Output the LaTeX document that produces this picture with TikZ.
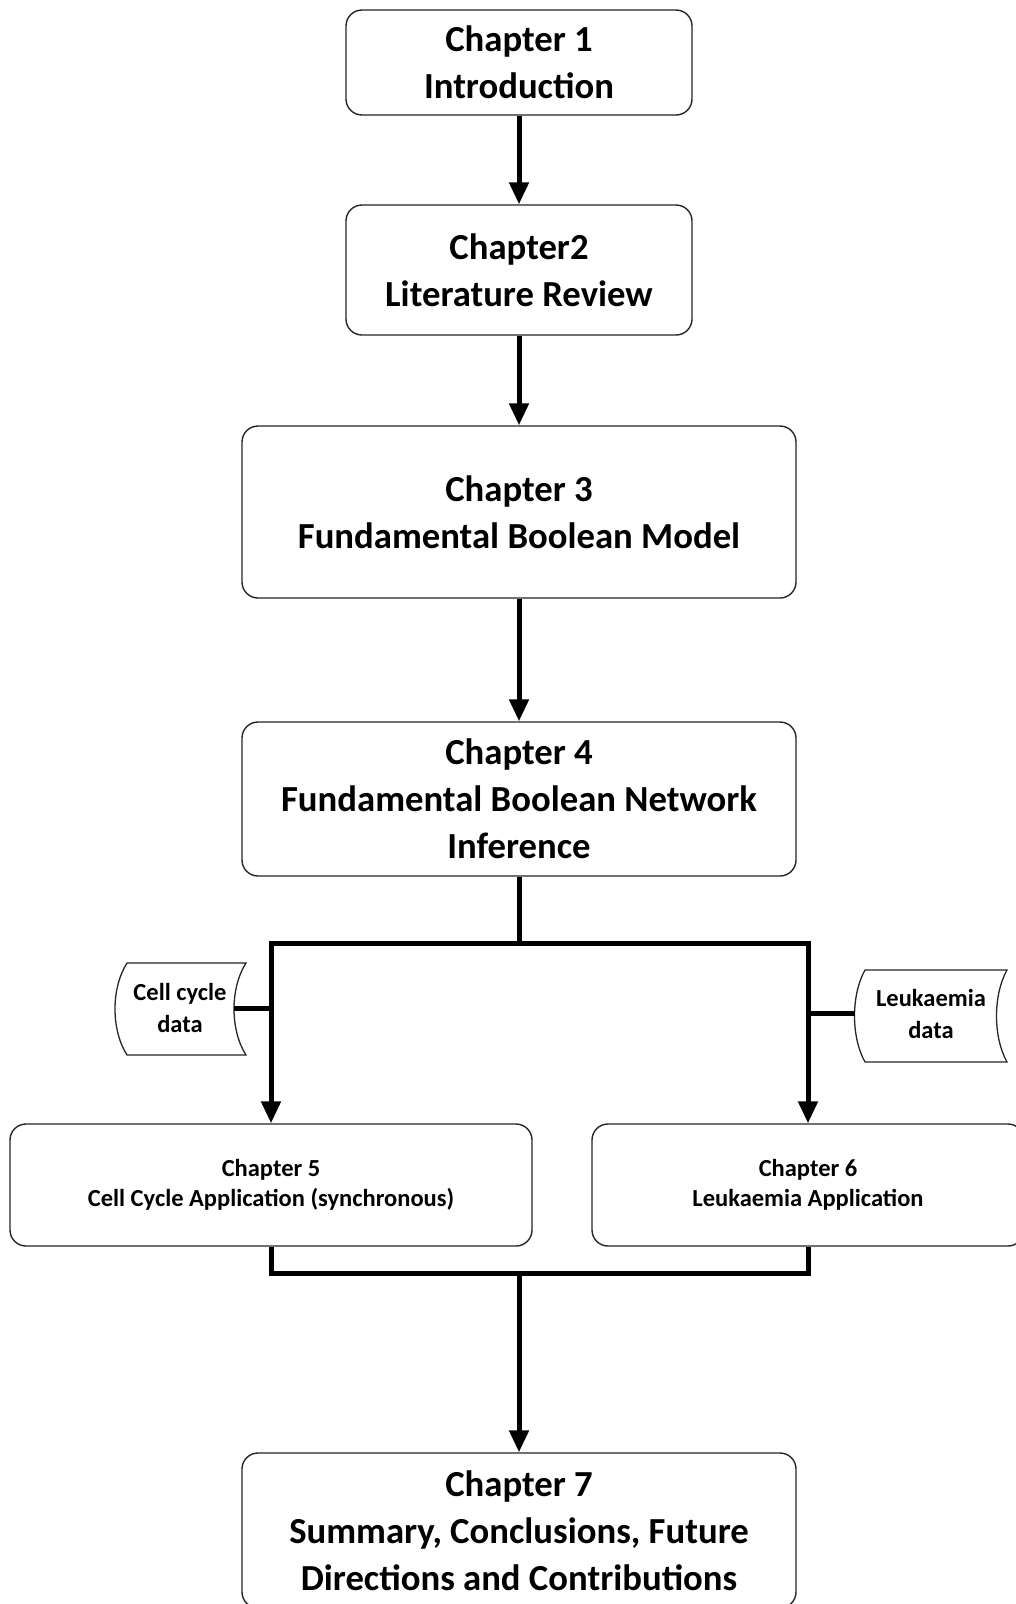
\documentclass[tikz,border=0pt]{standalone}
\usepackage{fontspec}
\setmainfont{Carlito}
\usetikzlibrary{arrows.meta,calc}
\begin{document}
\begin{tikzpicture}[x=1pt,y=-1pt,
  box/.style={draw=black!85,line width=1.4pt,rounded corners=16pt,align=center,inner sep=0pt,font=\fontsize{36.7}{47}\selectfont\bfseries},
  sbox/.style={box,font=\fontsize{24.5}{30}\selectfont\bfseries},
  dtext/.style={align=center,inner sep=0pt,font=\fontsize{24.5}{31.5}\selectfont\bfseries},
  dshape/.style={draw=black!85,line width=1.3pt},
  thk/.style={line width=5pt,line join=miter},
  arr/.style={thk,-{Triangle[length=22pt,width=19pt]}}]
\useasboundingbox (0,0) rectangle (1016,1604);
\fill[white] (0,0) rectangle (1016,1604);

\node[box,minimum width=346pt,minimum height=105pt] (b1) at (519,62.5) {Chapter 1\\Introduction};
\node[box,minimum width=346pt,minimum height=130pt] (b2) at (519,270) {Chapter2\\Literature Review};
\node[box,minimum width=554pt,minimum height=172pt] (b3) at (519,512) {Chapter 3\\Fundamental Boolean Model};
\node[box,minimum width=554pt,minimum height=154pt] (b4) at (519,799) {Chapter 4\\Fundamental Boolean Network\\Inference};
\node[sbox,minimum width=522pt,minimum height=122pt] (b5) at (271,1185) {Chapter 5\\Cell Cycle Application (synchronous)};
\node[sbox,minimum width=432pt,minimum height=122pt] (b6) at (808,1185) {Chapter 6\\Leukaemia Application};
\node[box,minimum width=554pt,minimum height=155pt] (b7) at (519,1530.5) {Chapter 7\\Summary, Conclusions, Future\\Directions and Contributions};

% data shapes
\draw[dshape] (127,963) -- (246,963) .. controls (230,988) and (230,1030) .. (246,1055)
  -- (127,1055) .. controls (111,1030) and (111,988) .. (127,963) -- cycle;
\node[dtext] (ccd) at (180,1008) {Cell cycle\\data};
\coordinate (ccdR) at (234,1008);

\draw[dshape] (865,970) -- (1007,970) .. controls (993,995) and (993,1037) .. (1007,1062)
  -- (865,1062) .. controls (851,1037) and (851,995) .. (865,970) -- cycle;
\node[dtext] (lkd) at (931,1014) {Leukaemia\\data};
\coordinate (lkdL) at (855,1013);

% junction coordinates
\coordinate (j1) at (519,943);
\coordinate (jL) at (271,943);
\coordinate (jR) at (808,943);
\coordinate (k1) at (519,1273);
\coordinate (kL) at (271,1273);
\coordinate (kR) at (808,1273);

\draw[arr] (b1.south) -- (b2.north);
\draw[arr] (b2.south) -- (b3.north);
\draw[arr] (b3.south) -- (b4.north);
\draw[thk] (b4.south) -- (j1);
\draw[arr] (j1) -- (jL) -- (jL |- b5.north);
\draw[arr] (j1) -- (jR) -- (jR |- b6.north);
\draw[thk] (ccdR) -- (ccdR -| jL);
\draw[thk] (lkdL) -- (lkdL -| jR);
\draw[thk] (kL |- b5.south) -- (kL) -- (kR) -- (kR |- b6.south);
\draw[arr] (k1) -- (b7.north);
\end{tikzpicture}
\end{document}
